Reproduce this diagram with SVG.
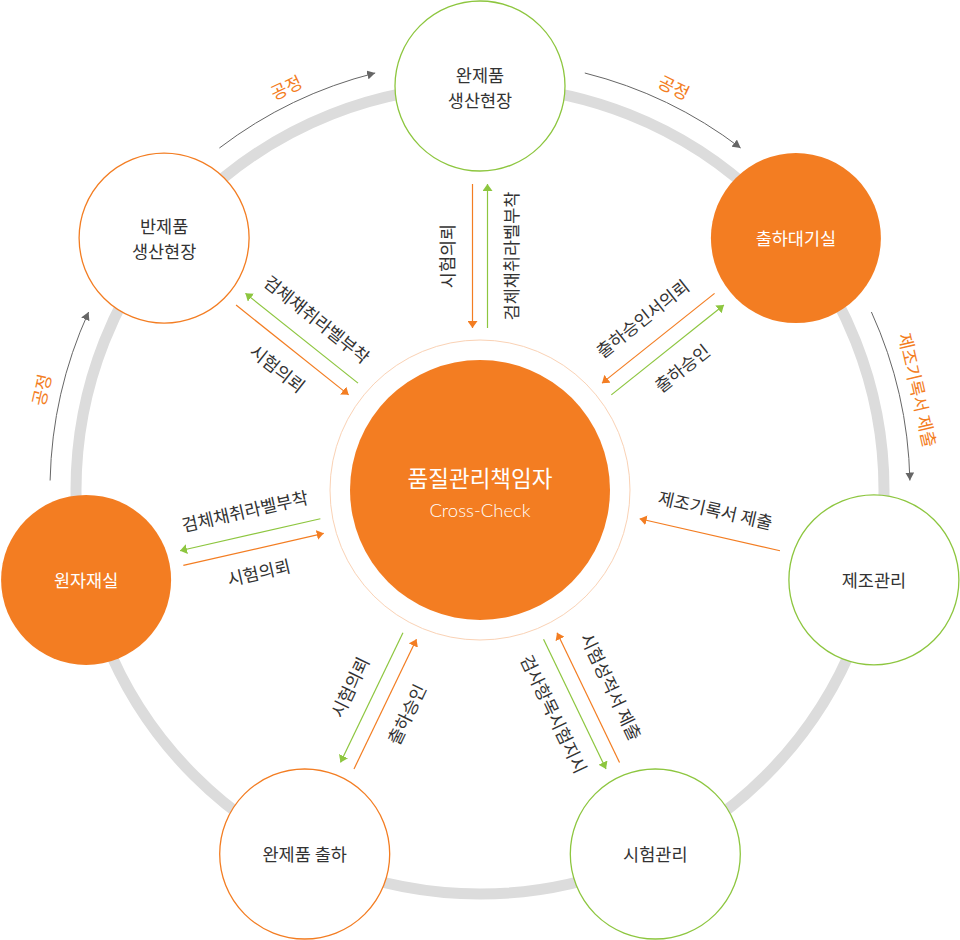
<svg xmlns="http://www.w3.org/2000/svg" width="960" height="940" viewBox="0 0 960 940">
<style>
text { font-family: "Noto Sans CJK KR", "Noto Sans", sans-serif; }
.lbl { font-size: 17.5px; fill: #333; text-anchor: middle; }
.wht { fill: #fff; }
.otx { fill: #F37D22; }
.ring { fill: none; stroke: #DCDCDC; stroke-width: 11; }
.nO { fill: #fff; stroke: #F37D22; stroke-width: 1.3; }
.nG { fill: #fff; stroke: #8DC63F; stroke-width: 1.3; }
.nF { fill: #F37D22; }
.lo { stroke: #F37D22; stroke-width: 1.2; fill: none; }
.lg { stroke: #8DC63F; stroke-width: 1.2; fill: none; }
.arc { stroke: #666; stroke-width: 1; fill: none; }
</style>
<defs>
<marker id="mo" viewBox="0 0 7 10" refX="7" refY="5" markerWidth="7" markerHeight="10" markerUnits="userSpaceOnUse" orient="auto"><path d="M0,0 L7,5 L0,10 z" fill="#F37D22"/></marker>
<marker id="mg" viewBox="0 0 7 10" refX="7" refY="5" markerWidth="7" markerHeight="10" markerUnits="userSpaceOnUse" orient="auto"><path d="M0,0 L7,5 L0,10 z" fill="#8DC63F"/></marker>
<marker id="mk" viewBox="0 0 8 9" refX="8" refY="4.5" markerWidth="8" markerHeight="9" markerUnits="userSpaceOnUse" orient="auto"><path d="M0,0 L8,4.5 L0,9 z" fill="#666"/></marker>
</defs>

<circle class="ring" cx="480" cy="490" r="404"/>

<g id="connectors">
  <!-- process arcs -->
  <path class="arc" d="M50.1,480.5 A430,430 0 0 1 88.6,312" marker-end="url(#mk)"/>
  <path class="arc" d="M219.4,148 A430,430 0 0 1 375.2,73" marker-end="url(#mk)"/>
  <path class="arc" d="M584.8,73 A430,430 0 0 1 740.6,148" marker-end="url(#mk)"/>
  <path class="arc" d="M871.4,312 A430,430 0 0 1 909.9,480.5" marker-end="url(#mk)"/>
  <g transform="translate(480 490) rotate(-77.14)"><text class="lbl otx" x="0" y="-443">공정</text></g>
  <g transform="translate(480 490) rotate(-25.71)"><text class="lbl otx" x="0" y="-440">공정</text></g>
  <g transform="translate(480 490) rotate(25.71)"><text class="lbl otx" x="0" y="-440">공정</text></g>
  <g transform="translate(480 490) rotate(77.14)"><text class="lbl otx" x="0" y="-442">제조기록서 제출</text></g>

  <!-- top -->
  <g transform="translate(480 490) rotate(-90)">
    <line class="lo" x1="306" y1="-7.5" x2="162" y2="-7.5" marker-end="url(#mo)"/>
    <line class="lg" x1="162" y1="7.5" x2="306" y2="7.5" marker-end="url(#mg)"/>
    <text class="lbl" x="234" y="-26">시험의뢰</text>
    <text class="lbl" x="234" y="37.5">검체채취라벨부착</text>
  </g>
  <!-- top right -->
  <g transform="translate(480 490) rotate(-38.571)">
    <line class="lo" x1="306" y1="-7.5" x2="162" y2="-7.5" marker-end="url(#mo)"/>
    <line class="lg" x1="162" y1="7.5" x2="306" y2="7.5" marker-end="url(#mg)"/>
    <text class="lbl" x="234" y="-26">출하승인서의뢰</text>
    <text class="lbl" x="234" y="37.5">출하승인</text>
  </g>
  <!-- right -->
  <g transform="translate(480 490) rotate(12.857)">
    <line class="lo" x1="306" y1="-7.5" x2="162" y2="-7.5" marker-end="url(#mo)"/>
    <text class="lbl" x="234" y="-26">제조기록서 제출</text>
  </g>
  <!-- bottom right -->
  <g transform="translate(480 490) rotate(64.286)">
    <line class="lo" x1="306" y1="-7.5" x2="162" y2="-7.5" marker-end="url(#mo)"/>
    <line class="lg" x1="162" y1="7.5" x2="306" y2="7.5" marker-end="url(#mg)"/>
    <text class="lbl" x="234" y="-26">시험성적서 제출</text>
    <text class="lbl" x="234" y="37.5">검사항목시험지시</text>
  </g>
  <!-- bottom left -->
  <g transform="translate(480 490) rotate(115.714)">
    <line class="lo" x1="306" y1="-7.5" x2="162" y2="-7.5" marker-end="url(#mo)"/>
    <line class="lg" x1="162" y1="7.5" x2="306" y2="7.5" marker-end="url(#mg)"/>
    <text class="lbl" transform="rotate(180)" x="-234" y="38">출하승인</text>
    <text class="lbl" transform="rotate(180)" x="-234" y="-25">시험의뢰</text>
  </g>
  <!-- left -->
  <g transform="translate(480 490) rotate(167.143)">
    <line class="lo" x1="306" y1="-7.5" x2="162" y2="-7.5" marker-end="url(#mo)"/>
    <line class="lg" x1="162" y1="7.5" x2="306" y2="7.5" marker-end="url(#mg)"/>
    <text class="lbl" transform="rotate(180)" x="-234" y="38">시험의뢰</text>
    <text class="lbl" transform="rotate(180)" x="-234" y="-25">검체채취라벨부착</text>
  </g>
  <!-- top left -->
  <g transform="translate(480 490) rotate(-141.429)">
    <line class="lo" x1="306" y1="-7.5" x2="162" y2="-7.5" marker-end="url(#mo)"/>
    <line class="lg" x1="162" y1="7.5" x2="306" y2="7.5" marker-end="url(#mg)"/>
    <text class="lbl" transform="rotate(180)" x="-234" y="38">시험의뢰</text>
    <text class="lbl" transform="rotate(180)" x="-234" y="-25">검체채취라벨부착</text>
  </g>
</g>

<g id="node-center">
  <circle cx="480" cy="490" r="150" fill="none" stroke="#FAD2B5" stroke-width="1"/>
  <circle class="nF" cx="480" cy="490" r="130"/>
  <text class="lbl wht" x="480" y="486.5" style="font-size:22.5px">품질관리책임자</text>
  <text x="480" y="516.5" text-anchor="middle" style="font-family:Lato,'Noto Sans',sans-serif;font-weight:300;font-size:18.5px;fill:#fff">Cross-Check</text>
</g>
<g id="node-finished-site">
  <circle class="nG" cx="480" cy="86" r="85"/>
  <text class="lbl" x="480" y="81.5">완제품</text>
  <text class="lbl" x="480" y="106.5">생산현장</text>
</g>
<g id="node-shipping-wait">
  <circle class="nF" cx="795.9" cy="238.1" r="85"/>
  <text class="lbl wht" x="795.9" y="244.5">출하대기실</text>
</g>
<g id="node-manufacturing">
  <circle class="nG" cx="873.9" cy="579.9" r="85"/>
  <text class="lbl" x="873.9" y="586.5">제조관리</text>
</g>
<g id="node-testing">
  <circle class="nG" cx="655.3" cy="854" r="85"/>
  <text class="lbl" x="655.3" y="860.5">시험관리</text>
</g>
<g id="node-shipment">
  <circle class="nO" cx="304.7" cy="854" r="85"/>
  <text class="lbl" x="304.7" y="860.5">완제품 출하</text>
</g>
<g id="node-raw">
  <circle class="nF" cx="86.1" cy="579.9" r="85"/>
  <text class="lbl wht" x="86.1" y="586.5">원자재실</text>
</g>
<g id="node-semi-site">
  <circle class="nO" cx="164.1" cy="238.1" r="85"/>
  <text class="lbl" x="164.1" y="233">반제품</text>
  <text class="lbl" x="164.1" y="258">생산현장</text>
</g>
</svg>
